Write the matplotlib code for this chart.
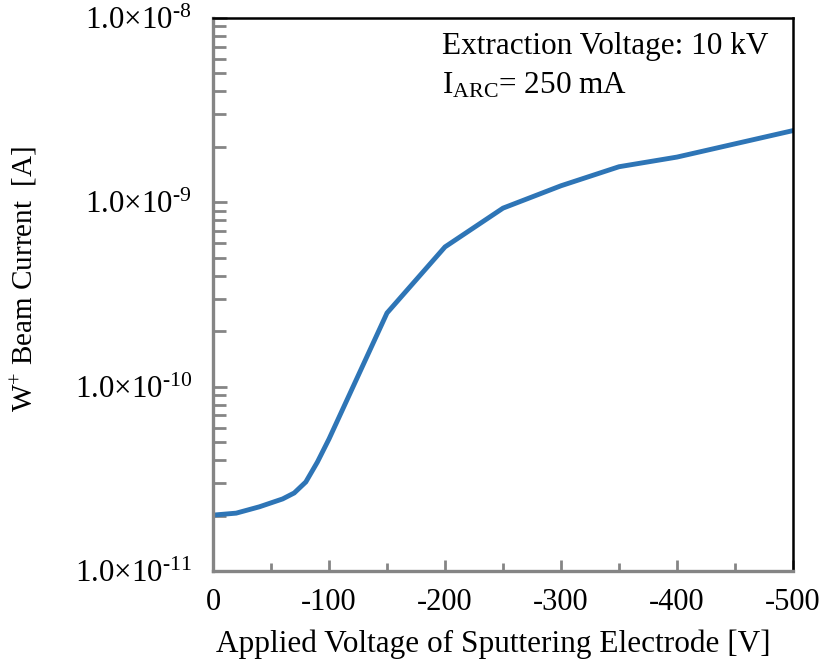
import matplotlib
matplotlib.use("Agg")
import matplotlib.pyplot as plt
from matplotlib.ticker import FixedLocator, FuncFormatter, LogLocator, NullFormatter

plt.rcParams['font.family'] = ['Liberation Serif', 'DejaVu Serif']
plt.rcParams['mathtext.fontset'] = 'custom'
plt.rcParams['mathtext.rm'] = 'Liberation Serif'
plt.rcParams['mathtext.it'] = 'Liberation Serif:italic'
plt.rcParams['mathtext.bf'] = 'Liberation Serif:bold'
plt.rcParams['axes.unicode_minus'] = False

voltage = [0, -20, -40, -60, -70, -80, -90, -100, -150, -200, -250, -300, -350, -400, -500]
current = [2.01e-11, 2.06e-11, 2.23e-11, 2.46e-11, 2.65e-11, 3.04e-11, 3.9e-11, 5.2e-11,
           2.51e-10, 5.73e-10, 9.3e-10, 1.23e-9, 1.56e-9, 1.76e-9, 2.45e-9]
xticks = [0, -100, -200, -300, -400, -500]
yticks = [1e-11, 1e-10, 1e-9, 1e-8]
ytick_labels = ["1.0×10$^{\\text{-11}}$", "1.0×10$^{\\text{-10}}$",
                "1.0×10$^{\\text{-9}}$", "1.0×10$^{\\text{-8}}$"]

fig = plt.figure(figsize=(8.24, 6.64), dpi=100)
ax = fig.add_axes([213/824, 1 - 571/664, (793-213)/824, (571-18)/664])

ax.plot(voltage, current, color='#2E75B6', lw=3.5, solid_joinstyle='miter')

ax.set_yscale('log')
ax.set_xlim(0, -500)
ax.set_ylim(1e-11, 1e-8)

ax.xaxis.set_major_locator(FixedLocator(xticks))
ax.xaxis.set_minor_locator(FixedLocator([-50, -150, -250, -350, -450]))
ax.xaxis.set_major_formatter(FuncFormatter(lambda v, p: f"{int(round(v))}"))

ax.yaxis.set_major_locator(FixedLocator(yticks))
ax.set_yticklabels(ytick_labels)
ax.yaxis.set_minor_locator(LogLocator(base=10, subs=range(2, 10)))
ax.yaxis.set_minor_formatter(NullFormatter())

gray = '#858585'
for s in ['left', 'bottom']:
    ax.spines[s].set_color(gray)
    ax.spines[s].set_linewidth(2.4)
for s in ['top', 'right']:
    ax.spines[s].set_color('black')
    ax.spines[s].set_linewidth(1.8)

ax.tick_params(axis='both', which='both', direction='in', color=gray, width=2,
               top=False, right=False)
ax.tick_params(axis='x', which='major', length=8, pad=12, labelsize=22)
ax.tick_params(axis='x', which='minor', length=6)
ax.tick_params(axis='y', which='major', length=10, pad=15, labelsize=22.3)
ax.tick_params(axis='y', which='minor', length=9)

ax.set_xlabel("Applied Voltage of Sputtering Electrode [V]", fontsize=22.5)
ax.xaxis.set_label_coords(0.483, -0.105)
ax.set_ylabel("W$^{+}$ Beam Current  [A]", fontsize=21)
ax.yaxis.set_label_coords(-0.298, 0.528)

ax.text(0.395, 0.975, "Extraction Voltage: 10 kV", transform=ax.transAxes,
        fontsize=22.5, va='top', ha='left')
ax.text(0.395, 0.905, "I$_{\\mathrm{ARC}}$= 250 mA", transform=ax.transAxes,
        fontsize=22.5, va='top', ha='left')

fig.savefig("out.png", dpi=100)
